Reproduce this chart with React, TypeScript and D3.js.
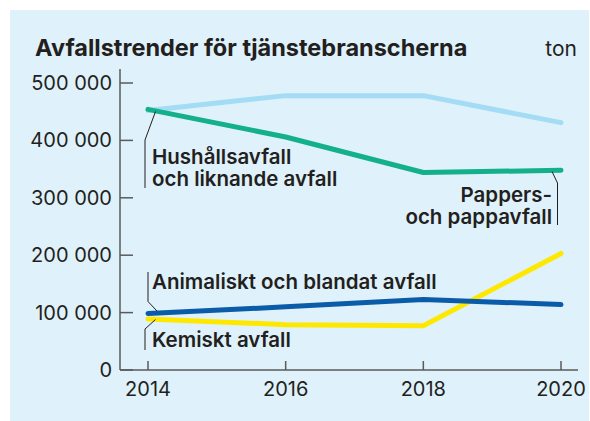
import React from "react";
import * as d3 from "d3";

const years = [2014, 2016, 2018, 2020];
const yTicks = [0, 100000, 200000, 300000, 400000, 500000];
const hushall = [452000, 478000, 478000, 431000];
const papper = [454000, 406000, 344000, 348000];
const animaliskt = [98500, 110000, 123000, 114000];
const kemiskt = [89000, 79000, 77000, 203000];

const seriesList = [
  { name: "Hushållsavfall", values: hushall, color: "#a3dcf4", width: 5 },
  { name: "Pappers", values: papper, color: "#13b08b", width: 5 },
  { name: "Kemiskt", values: kemiskt, color: "#ffe800", width: 5 },
  { name: "Animaliskt", values: animaliskt, color: "#0b5ca8", width: 5 },
];

const W = 590;
const H = 421;
const FONT = "Inter, 'Noto Sans', sans-serif";

export default function App() {
  const x = d3.scaleLinear().domain([2014, 2020]).range([148, 561]);
  const y = d3.scaleLinear().domain([0, 500000]).range([370, 83]);
  const line = d3
    .line<number>()
    .x((_, i) => x(years[i]))
    .y((d) => y(d));
  const fmt = (v: number) => d3.format(",")(v).replace(/,/g, " ");
  const txt = "#231f20";
  const axisColor = "#5a5a5a";
  return (
    <svg
      width={W}
      height={H}
      style={{ position: "absolute", left: 0, top: 0 }}
      fontFamily={FONT}
    >
      <rect x={0} y={0} width={W} height={H} fill="#ffffff" />
      <rect x={10} y={10} width={579} height={H - 10} fill="#dff1fa" />
      <text x={35} y={56} fontSize={23.5} fontWeight={700} fill={txt}>
        Avfallstrender för tjänstebranscherna
      </text>
      <text x={577} y={56} fontSize={21} textAnchor="end" fill={txt}>
        ton
      </text>
      {/* y axis */}
      <line x1={120} x2={120} y1={69} y2={370} stroke={axisColor} strokeWidth={1.5} />
      {yTicks.map((t) => (
        <g key={t}>
          <line x1={120} x2={133} y1={y(t)} y2={y(t)} stroke={axisColor} strokeWidth={1.5} />
          <text x={112} y={y(t) + 7} fontSize={20} textAnchor="end" fill={txt}>
            {fmt(t)}
          </text>
        </g>
      ))}
      {/* x axis */}
      <line x1={120} x2={578} y1={370} y2={370} stroke={axisColor} strokeWidth={1.5} />
      {years.map((yr) => (
        <g key={yr}>
          <line x1={x(yr)} x2={x(yr)} y1={361} y2={370} stroke={axisColor} strokeWidth={1.5} />
          <text x={x(yr)} y={396} fontSize={20} textAnchor="middle" fill={txt}>
            {yr}
          </text>
        </g>
      ))}
      {seriesList.map((s) => (
        <path
          key={s.name}
          d={line(s.values) || ""}
          fill="none"
          stroke={s.color}
          strokeWidth={s.width}
          strokeLinecap="round"
          strokeLinejoin="round"
        />
      ))}
      {/* callouts */}
      <g stroke="#231f20" strokeWidth={1} fill="none">
        <polyline points={`155.5,111.5 145,140 145,188`} />
        <polyline points={`552,171.5 557.5,183 557.5,225`} />
        <polyline points={`157,311 148,301.5 148,272`} />
        <polyline points={`155.5,319.5 145,329 145,350`} />
      </g>
      <g fontSize={20.5} fontWeight={600} fill={txt}>
        <text x={152} y={164}>
          <tspan x={152}>Hushållsavfall</tspan>
          <tspan x={152} dy={21.5}>och liknande avfall</tspan>
        </text>
        <text x={552} y={202} textAnchor="end">
          <tspan x={552}>Pappers-</tspan>
          <tspan x={552} dy={21.5}>och pappavfall</tspan>
        </text>
        <text x={152} y={289}>Animaliskt och blandat avfall</text>
        <text x={152} y={347}>Kemiskt avfall</text>
      </g>
    </svg>
  );
}
